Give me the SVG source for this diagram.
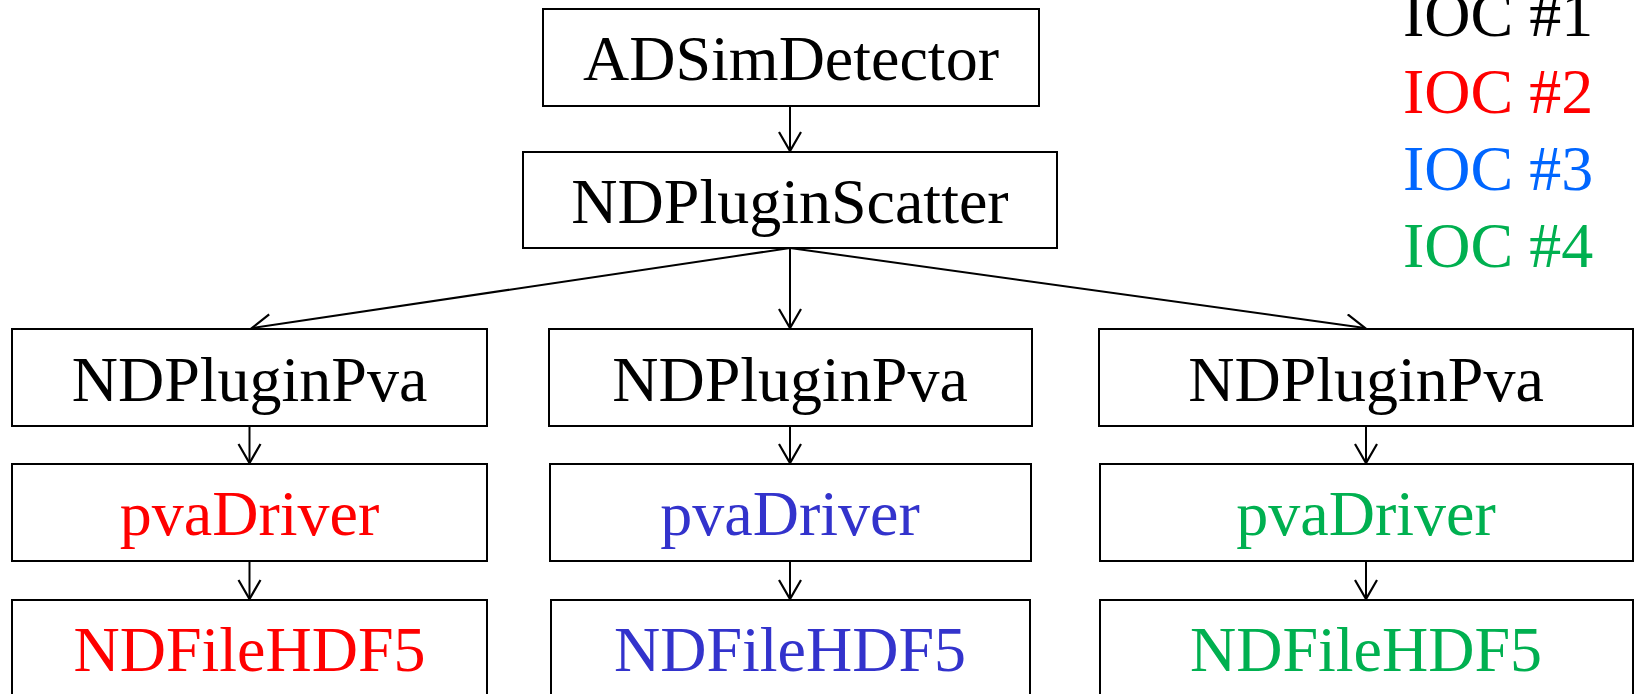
<svg xmlns="http://www.w3.org/2000/svg" width="1635" height="694" viewBox="0 0 1635 694">
<defs>
<marker id="arr" markerUnits="userSpaceOnUse" markerWidth="24" markerHeight="26" refX="20" refY="12" orient="auto">
<path d="M1,1 L20,12 L1,23" fill="none" stroke="#000" stroke-width="2.2"/>
</marker>
<style>
.box{fill:#fff;stroke:#000;stroke-width:2}
.lbl{font-family:"Liberation Serif","Times New Roman",serif;font-size:64px;text-anchor:middle}
.leg{font-family:"Liberation Serif","Times New Roman",serif;font-size:64px}
.conn{stroke:#000;stroke-width:2;fill:none;marker-end:url(#arr)}
.k{fill:#000}.r{fill:#FF0000}.b{fill:#3333CC}.g{fill:#00B050}.lb{fill:#0066FF}
</style>
</defs>
<rect width="1635" height="694" fill="#fff"/>
<g id="connectors">
<line class="conn" x1="790" y1="106" x2="790" y2="151"/>
<line class="conn" x1="790" y1="248" x2="252" y2="328"/>
<line class="conn" x1="790" y1="248" x2="790" y2="328"/>
<line class="conn" x1="790" y1="248" x2="1365" y2="328"/>
<line class="conn" x1="249.5" y1="426" x2="249.5" y2="463"/>
<line class="conn" x1="249.5" y1="561" x2="249.5" y2="599"/>
<line class="conn" x1="790" y1="426" x2="790" y2="463"/>
<line class="conn" x1="790" y1="561" x2="790" y2="599"/>
<line class="conn" x1="1366" y1="426" x2="1366" y2="463"/>
<line class="conn" x1="1366" y1="561" x2="1366" y2="599"/>
</g>
<g id="adsim"><rect class="box" x="543" y="9" width="496" height="97"/><text class="lbl k" x="791" y="80">ADSimDetector</text></g>
<g id="scatter"><rect class="box" x="523" y="152" width="534" height="96"/><text class="lbl k" x="790" y="223">NDPluginScatter</text></g>
<g id="pva1"><rect class="box" x="12" y="329" width="475" height="97"/><text class="lbl k" x="249.5" y="401">NDPluginPva</text></g>
<g id="pva2"><rect class="box" x="549" y="329" width="483" height="97"/><text class="lbl k" x="790" y="401">NDPluginPva</text></g>
<g id="pva3"><rect class="box" x="1099" y="329" width="534" height="97"/><text class="lbl k" x="1366" y="401">NDPluginPva</text></g>
<g id="drv1"><rect class="box" x="12" y="464" width="475" height="97"/><text class="lbl r" x="249.5" y="535">pvaDriver</text></g>
<g id="drv2"><rect class="box" x="550" y="464" width="481" height="97"/><text class="lbl b" x="790" y="535">pvaDriver</text></g>
<g id="drv3"><rect class="box" x="1100" y="464" width="533" height="97"/><text class="lbl g" x="1366" y="535">pvaDriver</text></g>
<g id="hdf1"><rect class="box" x="12" y="600" width="475" height="100"/><text class="lbl r" x="249.5" y="671">NDFileHDF5</text></g>
<g id="hdf2"><rect class="box" x="551" y="600" width="479" height="100"/><text class="lbl b" x="790" y="671">NDFileHDF5</text></g>
<g id="hdf3"><rect class="box" x="1100" y="600" width="533" height="100"/><text class="lbl g" x="1366" y="671">NDFileHDF5</text></g>
<g id="legend">
<text class="leg k" x="1403" y="36">IOC #1</text>
<text class="leg r" x="1403" y="113">IOC #2</text>
<text class="leg lb" x="1403" y="190">IOC #3</text>
<text class="leg g" x="1403" y="267">IOC #4</text>
</g>
</svg>
